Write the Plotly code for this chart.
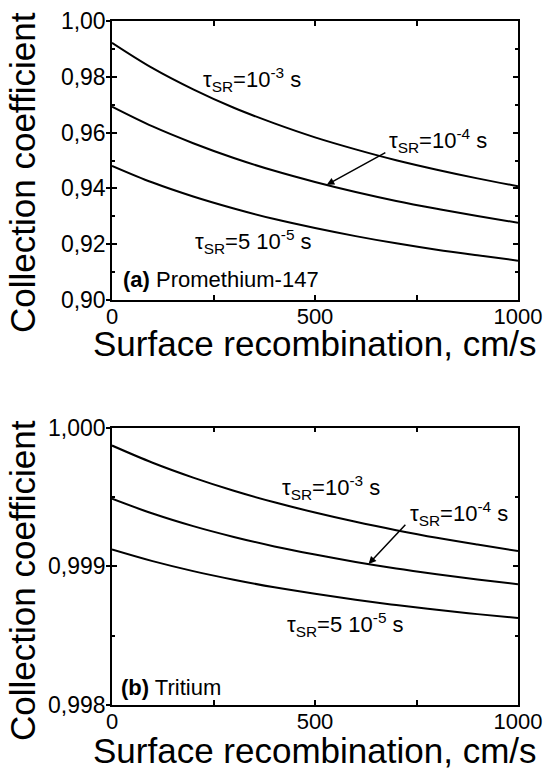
import plotly.graph_objects as go

# Surface recombination velocity, cm/s
s_rec = [0, 100, 200, 300, 400, 500, 600, 700, 800, 900, 1000]

# (a) Promethium-147: collection coefficient for three bulk lifetimes
pm_tau_1e3 = [0.9922, 0.9831, 0.9755, 0.9689, 0.9633, 0.9583, 0.9540, 0.9501, 0.9467, 0.9436, 0.9408]
pm_tau_1e4 = [0.9693, 0.9622, 0.9562, 0.9509, 0.9463, 0.9423, 0.9387, 0.9355, 0.9327, 0.9301, 0.9277]
pm_tau_5e5 = [0.9481, 0.9421, 0.9371, 0.9328, 0.9290, 0.9258, 0.9229, 0.9203, 0.9180, 0.9160, 0.9141]

# (b) Tritium
h3_tau_1e3 = [0.99987, 0.999746, 0.999639, 0.999544, 0.999461, 0.999387, 0.999320, 0.999260, 0.999205, 0.999156, 0.999110]
h3_tau_1e4 = [0.999487, 0.999380, 0.999289, 0.999211, 0.999143, 0.999084, 0.999031, 0.998984, 0.998943, 0.998905, 0.998871]
h3_tau_5e5 = [0.999121, 0.999037, 0.998965, 0.998903, 0.998848, 0.998801, 0.998758, 0.998720, 0.998686, 0.998655, 0.998627]

x_ticks = [0, 500, 1000]
pm_range = [0.90, 1.00]
h3_range = [0.998, 1.000]

lbl_1e3 = "τ<sub>SR</sub>=10<sup>-3</sup> s"
lbl_1e4 = "τ<sub>SR</sub>=10<sup>-4</sup> s"
lbl_5e5 = "τ<sub>SR</sub>=5 10<sup>-5</sup> s"

FONT = "Liberation Sans, Arial, sans-serif"
W, H = 546, 774

fig = go.Figure()

for ys in (pm_tau_1e3, pm_tau_1e4, pm_tau_5e5):
    fig.add_trace(go.Scatter(x=s_rec, y=ys, mode="lines", line=dict(color="black", width=2, shape="spline"),
                             xaxis="x", yaxis="y", showlegend=False, hoverinfo="skip"))
for ys in (h3_tau_1e3, h3_tau_1e4, h3_tau_5e5):
    fig.add_trace(go.Scatter(x=s_rec, y=ys, mode="lines", line=dict(color="black", width=2, shape="spline"),
                             xaxis="x2", yaxis="y2", showlegend=False, hoverinfo="skip"))
# empty traces so the outward-tick overlay axes are rendered
fig.add_trace(go.Scatter(x=[None], y=[None], xaxis="x", yaxis="y3", showlegend=False, hoverinfo="skip"))
fig.add_trace(go.Scatter(x=[None], y=[None], xaxis="x2", yaxis="y4", showlegend=False, hoverinfo="skip"))

xdom = [112 / W, 518 / W]
top_dom = [1 - 300 / H, 1 - 21 / H]
bot_dom = [1 - 705 / H, 1 - 427.5 / H]


def xax(anchor):
    return dict(domain=xdom, anchor=anchor, range=[0, 1000], tickvals=x_ticks, automargin=False,
                showline=True, linecolor="black", linewidth=1.5, mirror="allticks",
                ticks="inside", ticklen=5, tickwidth=1.5, tickcolor="black", ticklabelstandoff=-4,
                minor=dict(tickvals=[250, 750], ticks="inside", ticklen=3, tickwidth=1.5, tickcolor="black"),
                showgrid=False, zeroline=False, tickfont=dict(family=FONT, size=22, color="black"))


def yax(anchor, dom, rng, dtick, mdtick, fmt):
    return dict(domain=dom, anchor=anchor, range=rng, tick0=rng[0], dtick=dtick, tickformat=fmt,
                automargin=False,
                showline=True, linecolor="black", linewidth=1.5, mirror="allticks",
                ticks="inside", ticklen=5, tickwidth=1.5, tickcolor="black",
                minor=dict(tick0=rng[0], dtick=mdtick, ticks="inside", ticklen=3, tickwidth=1.5, tickcolor="black"),
                showgrid=False, zeroline=False, tickfont=dict(family=FONT, size=23, color="black"))


def yout(over, anchor, dom, rng, dtick):
    return dict(domain=dom, overlaying=over, anchor=anchor, side="left", range=rng, tick0=rng[0], dtick=dtick,
                automargin=False,
                showline=False, showgrid=False, zeroline=False, showticklabels=False,
                ticks="outside", ticklen=5, tickwidth=1.5, tickcolor="black")


fig.update_layout(
    template="none",
    width=W, height=H, margin=dict(l=0, r=0, t=0, b=0, autoexpand=False),
    paper_bgcolor="white", plot_bgcolor="white",
    separators=", ",
    font=dict(family=FONT, color="black"),
    xaxis=xax("y"),
    yaxis=yax("x", top_dom, pm_range, 0.02, 0.01, ".2f"),
    xaxis2=xax("y2"),
    yaxis2=yax("x2", bot_dom, h3_range, 0.001, 0.0005, ".3f"),
    yaxis3=yout("y", "x", top_dom, pm_range, 0.02),
    yaxis4=yout("y2", "x2", bot_dom, h3_range, 0.001),
)

ann = []
lab_font = dict(family=FONT, size=22, color="black")

# curve labels, panel (a)
ann.append(dict(x=218, y=0.9789, xref="x", yref="y", text=lbl_1e3, showarrow=False,
                xanchor="left", yanchor="middle", font=lab_font))
ann.append(dict(x=678, y=0.9570, xref="x", yref="y", text=lbl_1e4, showarrow=False,
                xanchor="left", yanchor="middle", font=lab_font))
ann.append(dict(x=200, y=0.9211, xref="x", yref="y", text=lbl_5e5, showarrow=False,
                xanchor="left", yanchor="middle", font=lab_font))
ann.append(dict(x=23, y=0.9075, xref="x", yref="y", text="<b>(a)</b> Promethium-147", showarrow=False,
                xanchor="left", yanchor="middle", font=lab_font))
ann.append(dict(x=529, y=0.9413, ax=677, ay=0.9531, xref="x", yref="y", axref="x", ayref="y",
                text="", showarrow=True, arrowhead=2, arrowsize=1, arrowwidth=1.5, arrowcolor="black"))

# curve labels, panel (b)
ann.append(dict(x=415, y=0.999568, xref="x2", yref="y2", text=lbl_1e3, showarrow=False,
                xanchor="left", yanchor="middle", font=lab_font))
ann.append(dict(x=728, y=0.999377, xref="x2", yref="y2", text=lbl_1e4, showarrow=False,
                xanchor="left", yanchor="middle", font=lab_font))
ann.append(dict(x=427, y=0.998582, xref="x2", yref="y2", text=lbl_5e5, showarrow=False,
                xanchor="left", yanchor="middle", font=lab_font))
ann.append(dict(x=17, y=0.998128, xref="x2", yref="y2", text="<b>(b)</b> Tritium", showarrow=False,
                xanchor="left", yanchor="middle", font=lab_font))
ann.append(dict(x=632, y=0.999016, ax=726, ay=0.999310, xref="x2", yref="y2", axref="x2", ayref="y2",
                text="", showarrow=True, arrowhead=2, arrowsize=1, arrowwidth=1.5, arrowcolor="black"))

# axis titles
title_font = dict(family=FONT, size=35, color="black")
for yc in (343, 750):
    ann.append(dict(x=315 / W, y=1 - yc / H, xref="paper", yref="paper", text="Surface recombination, cm/s",
                    showarrow=False, xanchor="center", yanchor="middle", font=title_font))
for yc in (173, 581):
    ann.append(dict(x=22 / W, y=1 - yc / H, xref="paper", yref="paper", text="Collection coefficient",
                    showarrow=False, xanchor="center", yanchor="middle", textangle=-90, font=title_font))

fig.update_layout(annotations=ann)
fig.write_html("out.html")
